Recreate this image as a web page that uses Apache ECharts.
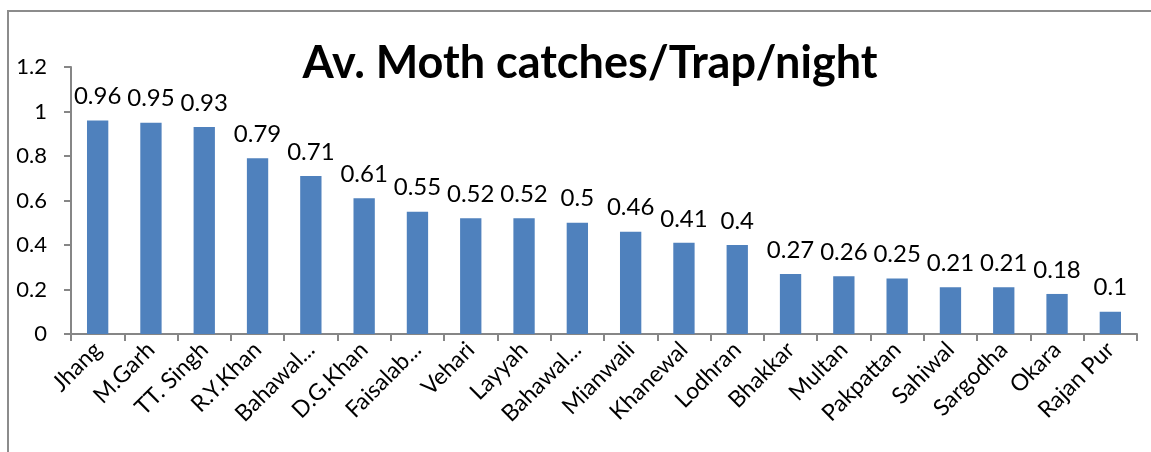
<!DOCTYPE html>
<html>
<head>
<meta charset="utf-8">
<script src="https://cdn.jsdelivr.net/npm/echarts@6/dist/echarts.min.js"></script>
<style>
  html, body { margin: 0; padding: 0; background: #fff; }
  .wrap { position: relative; width: 1151px; height: 452px; overflow: hidden; }
  .frame { position: absolute; left: 7px; top: 10px; width: 1160px; height: 460px;
           border-left: 2px solid #8c8c8c; border-top: 2px solid #8c8c8c; }
  #chart { position: absolute; left: 0; top: 0; width: 1151px; height: 452px; }
</style>
</head>
<body>
<div class="wrap">
  <div class="frame"></div>
  <div id="chart"></div>
</div>
<script>
  // districts and average catches
  var districts = ['Jhang', 'M.Garh', 'TT. Singh', 'R.Y.Khan', 'Bahawal...', 'D.G.Khan', 'Faisalab...',
    'Vehari', 'Layyah', 'Bahawal...', 'Mianwali', 'Khanewal', 'Lodhran', 'Bhakkar', 'Multan',
    'Pakpattan', 'Sahiwal', 'Sargodha', 'Okara', 'Rajan Pur'];
  var catches = [0.96, 0.95, 0.93, 0.79, 0.71, 0.61, 0.55, 0.52, 0.52, 0.5, 0.46, 0.41, 0.4,
    0.27, 0.26, 0.25, 0.21, 0.21, 0.18, 0.1];
  var titleText = 'Av. Moth catches/Trap/night';

  var chart = echarts.init(document.getElementById('chart'));
  chart.setOption({
    animation: false,
    textStyle: { fontFamily: 'Lato' },
    title: {
      text: titleText,
      left: 585,
      top: 36,
      textAlign: 'center',
      textStyle: { fontSize: 45, fontWeight: 'bold', color: '#000', fontFamily: 'Lato' }
    },
    grid: { left: 71, right: 14, top: 67, bottom: 118, containLabel: false },
    xAxis: {
      type: 'category',
      data: districts,
      axisLine: { lineStyle: { color: '#868686', width: 2 } },
      axisTick: { show: true, alignWithLabel: false, length: 7, lineStyle: { color: '#868686', width: 2 } },
      axisLabel: { rotate: 45, fontSize: 23, color: '#000', margin: 12, interval: 0 }
    },
    yAxis: {
      type: 'value',
      min: 0,
      max: 1.2,
      interval: 0.2,
      axisLine: { show: true, lineStyle: { color: '#868686', width: 2 } },
      axisTick: { show: true, length: 7, lineStyle: { color: '#868686', width: 2 } },
      splitLine: { show: false },
      axisLabel: {
        fontSize: 22, color: '#000', margin: 24,
        formatter: function (v) { return String(Math.round(v * 10) / 10); }
      }
    },
    series: [{
      type: 'bar',
      data: catches,
      barWidth: '40%',
      itemStyle: { color: '#4F81BD' },
      label: {
        show: true,
        position: 'top',
        distance: 12,
        fontSize: 24,
        color: '#000'
      }
    }]
  });
</script>
</body>
</html>
